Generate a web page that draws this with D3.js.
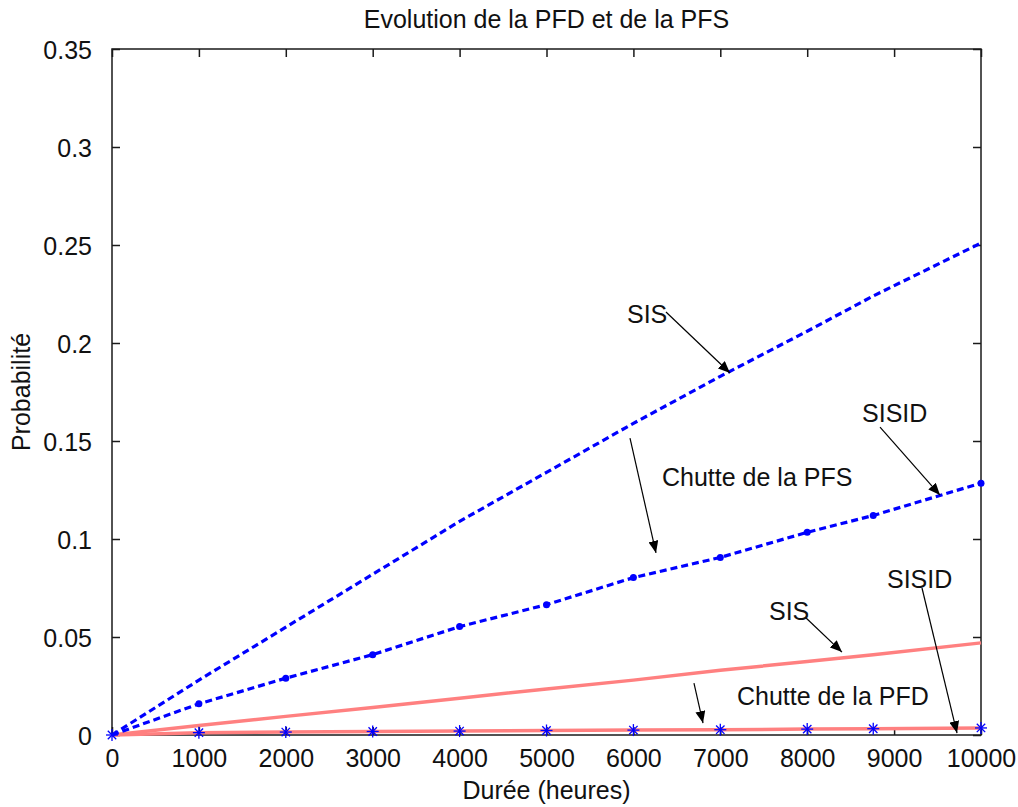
<!DOCTYPE html>
<html>
<head>
<meta charset="utf-8">
<script src="https://cdn.jsdelivr.net/npm/d3@7"></script>
<style>
  html, body { margin: 0; padding: 0; background: #fff; }
  svg { display: block; }
  text { font-family: "Liberation Sans", Arial, Helvetica, sans-serif; fill: #111; }
</style>
</head>
<body>
<svg id="chart" width="1018" height="807"></svg>
<script>
// ---- Data ----
const hours = [0, 1000, 2000, 3000, 4000, 5000, 6000, 7000, 8000, 8760, 10000];
const pfsSIS   = [0, 0.028, 0.055, 0.082, 0.109, 0.134, 0.159, 0.183, 0.206, 0.224, 0.251];
const pfsSISID = [0, 0.0159, 0.029, 0.041, 0.0553, 0.0665, 0.0803, 0.0906, 0.1034, 0.112, 0.1285];
const pfdSIS   = [0, 0.0048, 0.0095, 0.014, 0.0188, 0.0235, 0.028, 0.033, 0.0375, 0.041, 0.047];
const pfdSISID = [0, 0.0012, 0.0015, 0.0018, 0.002, 0.0023, 0.0025, 0.0027, 0.003, 0.0032, 0.0036];
const xTicks = [0, 1000, 2000, 3000, 4000, 5000, 6000, 7000, 8000, 9000, 10000];
const yTicks = [0, 0.05, 0.1, 0.15, 0.2, 0.25, 0.3, 0.35];
const titleText = "Evolution de la PFD et de la PFS";
const xLabel = "Durée (heures)";
const yLabel = "Probabilité";
// annotations in data coordinates: label anchor, arrow start, arrow end
const annotations = [
  { text: "SIS",              tx: 5926, ty: 0.2102, x1: 6375, y1: 0.2158, x2: 7112, y2: 0.1847 },
  { text: "SISID",            tx: 8631, ty: 0.1597, x1: 8838, y1: 0.1571, x2: 9528, y2: 0.1224 },
  { text: "Chutte de la PFS", tx: 6329, ty: 0.127,  x1: 5961, y1: 0.1515, x2: 6260, y2: 0.0929 },
  { text: "SIS",              tx: 7560, ty: 0.0587, x1: 7975, y1: 0.0602, x2: 8400, y2: 0.0423 },
  { text: "Chutte de la PFD", tx: 7192, ty: 0.0153, x1: 6697, y1: 0.0265, x2: 6801, y2: 0.0061 },
  { text: "SISID",            tx: 8918, ty: 0.075,  x1: 9321, y1: 0.075,  x2: 9724, y2: 0.001 }
];

// ---- Layout ----
const L = 112, R = 981, T = 49, B = 735;
const svg = d3.select("#chart");
const x = d3.scaleLinear().domain([0, 10000]).range([L, R]);
const y = d3.scaleLinear().domain([0, 0.35]).range([B, T]);
const FS = 25;
const axisColor = "#1a1a1a";

// Box
svg.append("rect").attr("x", L).attr("y", T).attr("width", R - L).attr("height", B - T)
  .attr("fill", "none").attr("stroke", axisColor).attr("stroke-width", 1.5);

// Axes (ticks inward) using d3 axes
const xAxisB = d3.axisBottom(x).tickValues(xTicks).tickSize(-8).tickPadding(14).tickFormat(d3.format("d"));
const gxb = svg.append("g").attr("transform", `translate(0,${B})`).call(xAxisB);
const xAxisT = d3.axisTop(x).tickValues(xTicks).tickSize(-8).tickFormat("");
const gxt = svg.append("g").attr("transform", `translate(0,${T})`).call(xAxisT);
const yAxisL = d3.axisLeft(y).tickValues(yTicks).tickSize(-8).tickPadding(20).tickFormat(d => d === 0 ? "0" : String(+d.toFixed(2)));
const gyl = svg.append("g").attr("transform", `translate(${L},0)`).call(yAxisL);
const yAxisR = d3.axisRight(y).tickValues(yTicks).tickSize(-8).tickFormat("");
const gyr = svg.append("g").attr("transform", `translate(${R},0)`).call(yAxisR);
[gxb, gxt, gyl, gyr].forEach(g => {
  g.select(".domain").remove();
  g.selectAll(".tick line").attr("stroke", axisColor).attr("stroke-width", 1.5);
  g.selectAll("text").attr("font-size", FS).attr("fill", "#111")
    .attr("font-family", '"Liberation Sans", Arial, sans-serif');
});
gxb.selectAll("text").attr("dy", "0.71em");
gyl.selectAll("text").attr("dy", "0.36em");

// Title and labels
svg.append("text").attr("x", (L + R) / 2).attr("y", 28).attr("text-anchor", "middle")
  .attr("font-size", FS).text(titleText);
svg.append("text").attr("x", (L + R) / 2).attr("y", 799).attr("text-anchor", "middle")
  .attr("font-size", FS).text(xLabel);
svg.append("text").attr("transform", `translate(30,${(T + B) / 2}) rotate(-90)`)
  .attr("text-anchor", "middle").attr("font-size", FS).text(yLabel);

// Lines
const line = d3.line().x(d => x(d[0])).y(d => y(d[1]));
const zip = vals => hours.map((h, i) => [h, vals[i]]);
const pink = "#ff8080", blue = "#0000ff";

svg.append("path").datum(zip(pfdSIS)).attr("d", line)
  .attr("fill", "none").attr("stroke", pink).attr("stroke-width", 3.5);
svg.append("path").datum(zip(pfdSISID)).attr("d", line)
  .attr("fill", "none").attr("stroke", pink).attr("stroke-width", 3.5);

svg.append("path").datum(zip(pfsSIS)).attr("d", line)
  .attr("fill", "none").attr("stroke", blue).attr("stroke-width", 3.2).attr("stroke-dasharray", "7,4");
svg.append("path").datum(zip(pfsSISID)).attr("d", line)
  .attr("fill", "none").attr("stroke", blue).attr("stroke-width", 3.2).attr("stroke-dasharray", "7,4");

// Dots on SISID PFS
svg.append("g").selectAll("circle").data(zip(pfsSISID).slice(1)).join("circle")
  .attr("cx", d => x(d[0])).attr("cy", d => y(d[1])).attr("r", 3.5).attr("fill", blue);

// Star markers on SISID PFD
const star = svg.append("g").attr("stroke", blue).attr("stroke-width", 1.3);
zip(pfdSISID).forEach(d => {
  const cx = x(d[0]), cy = y(d[1]), s = 6;
  star.append("line").attr("x1", cx - s).attr("x2", cx + s).attr("y1", cy).attr("y2", cy);
  star.append("line").attr("x1", cx).attr("x2", cx).attr("y1", cy - s).attr("y2", cy + s);
  star.append("line").attr("x1", cx - s * 0.7).attr("x2", cx + s * 0.7).attr("y1", cy - s * 0.7).attr("y2", cy + s * 0.7);
  star.append("line").attr("x1", cx - s * 0.7).attr("x2", cx + s * 0.7).attr("y1", cy + s * 0.7).attr("y2", cy - s * 0.7);
});

// Annotations with arrows
svg.append("defs").append("marker").attr("id", "arrow")
  .attr("viewBox", "0 0 12 10").attr("refX", 12).attr("refY", 5)
  .attr("markerWidth", 12).attr("markerHeight", 10).attr("markerUnits", "userSpaceOnUse")
  .attr("orient", "auto")
  .append("path").attr("d", "M0,0 L12,5 L0,10 Z").attr("fill", "#000");

const ag = svg.append("g");
annotations.forEach(a => {
  ag.append("line").attr("x1", x(a.x1)).attr("y1", y(a.y1)).attr("x2", x(a.x2)).attr("y2", y(a.y2))
    .attr("stroke", "#000").attr("stroke-width", 1.2).attr("marker-end", "url(#arrow)");
  ag.append("text").attr("x", x(a.tx)).attr("y", y(a.ty)).attr("font-size", FS).text(a.text);
});
</script>
</body>
</html>
